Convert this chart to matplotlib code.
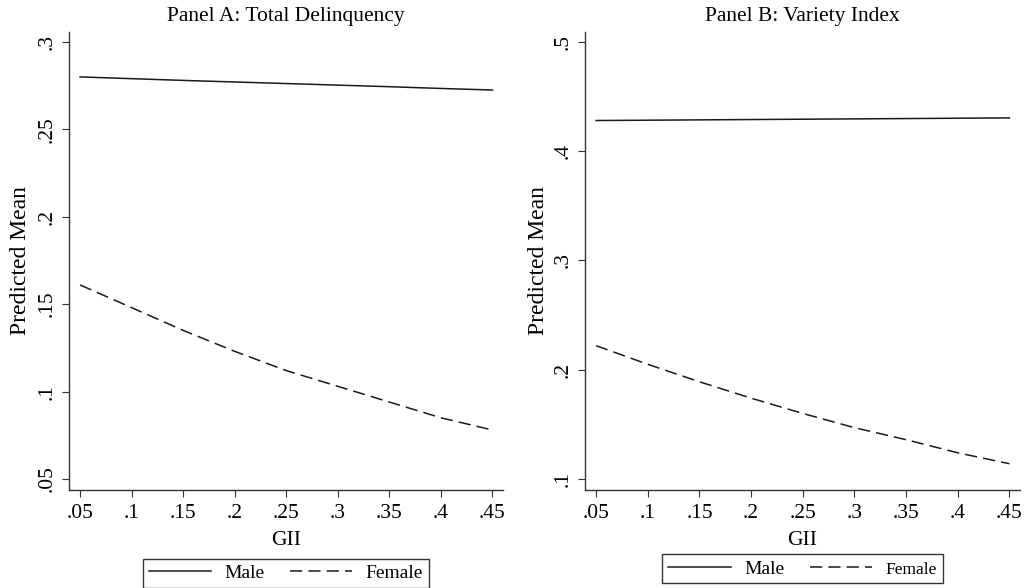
import numpy as np
import matplotlib.pyplot as plt

plt.rcParams['font.family'] = ['Liberation Serif', 'DejaVu Serif']
plt.rcParams['font.size'] = 15

gii = [0.05, 0.10, 0.15, 0.20, 0.25, 0.30, 0.35, 0.40, 0.45]

# Panel A: Total Delinquency
male_a = [0.2800, 0.2790, 0.2780, 0.2771, 0.2762, 0.2753, 0.2744, 0.2734, 0.2725]
female_a = [0.161, 0.148, 0.135, 0.123, 0.112, 0.103, 0.094, 0.085, 0.078]

# Panel B: Variety Index
male_b = [0.4280, 0.4283, 0.4286, 0.4289, 0.4292, 0.4295, 0.4298, 0.4301, 0.4304]
female_b = [0.222, 0.205, 0.189, 0.174, 0.160, 0.147, 0.136, 0.124, 0.114]

xticks = [0.05, 0.10, 0.15, 0.20, 0.25, 0.30, 0.35, 0.40, 0.45]
xticklabels = ['.05', '.1', '.15', '.2', '.25', '.3', '.35', '.4', '.45']
yticks_a = [0.05, 0.10, 0.15, 0.20, 0.25, 0.30]
yticklabels_a = ['.05', '.1', '.15', '.2', '.25', '.3']
yticks_b = [0.1, 0.2, 0.3, 0.4, 0.5]
yticklabels_b = ['.1', '.2', '.3', '.4', '.5']

fig = plt.figure(figsize=(10.32, 5.88), dpi=100)
ax1 = fig.add_axes([0.0669, 0.1667, 0.4205, 0.7789])
ax2 = fig.add_axes([0.5669, 0.1667, 0.4215, 0.7789])

panels = [
    (ax1, male_a, female_a, 'Panel A: Total Delinquency', yticks_a, yticklabels_a, (0.0437, 0.3057), 5, -0.150, 14),
    (ax2, male_b, female_b, 'Panel B: Variety Index', yticks_b, yticklabels_b, (0.090, 0.509), 3, -0.140, 12.5),
]

for ax, male, female, title, yt, ytl, ylim, ylpad, legy, femsize in panels:
    ax.plot(gii, male, color='#1a1a1a', lw=1.1, label='Male')
    ax.plot(gii, female, color='#1a1a1a', lw=1.1, dashes=(8, 4), label='Female')
    ax.set_xlim(0.0393, 0.4602)
    ax.set_ylim(*ylim)
    ax.set_xticks(xticks)
    ax.set_xticklabels(xticklabels)
    ax.set_yticks(yt)
    ax.set_yticklabels(ytl, rotation=90, va='center')
    ax.spines['top'].set_visible(False)
    ax.spines['right'].set_visible(False)
    for s in ['left', 'bottom']:
        ax.spines[s].set_color('#333333')
        ax.spines[s].set_linewidth(1.0)
    ax.tick_params(direction='out', length=5, width=0.8, color='#333333', pad=4, labelsize=15.5)
    ax.tick_params(axis='x', pad=5)
    ax.set_title(title, fontsize=15.5, pad=8)
    ax.set_xlabel('GII', fontsize=15.5, labelpad=6)
    ax.set_ylabel('Predicted Mean', fontsize=17, labelpad=ylpad)
    leg = ax.legend(loc='upper center', bbox_to_anchor=(0.5, legy), ncol=2,
                    frameon=True, fancybox=False, edgecolor='black', handlelength=3.2,
                    handletextpad=0.7, columnspacing=1.3, borderpad=0.3,
                    borderaxespad=0, fontsize=14)
    leg.get_frame().set_linewidth(1.0)
    leg.get_texts()[1].set_fontsize(femsize)

fig.savefig('out.png', dpi=100)
